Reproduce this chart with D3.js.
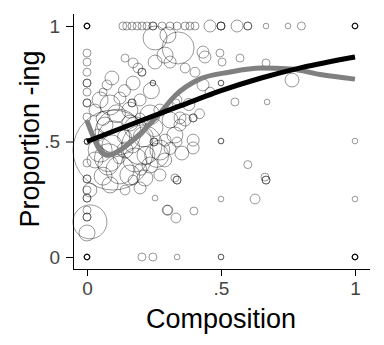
<!DOCTYPE html>
<html><head><meta charset="utf-8">
<script src="https://cdn.jsdelivr.net/npm/d3@7"></script>
<style>body{margin:0;background:#fff}svg{display:block}</style>
</head><body>
<script>
// ---- data ----
const composition = [
 0,0,0,.134,.149,.168,.187,.205,.224,.246,.246,.28,.31,.336,.366,.384,.403,.459,.5,.5,.5,.56,.6,.6,.668,.75,.8,1,1,1,
 0,0,0,0,0,0,0,0,0,0,0,0,0,0,0,0,0,0,0,0,0,0,.011,0,0,0,
 .142,.172,.19,.205,.205,.254,.291,.254,.302,.093,.075,.06,.172,.246,.246,.34,.433,.44,.496,.504,.571,.366,.403,.31,.668,.765,.5,.5,.433,.459,
 .03,.049,.086,.123,.16,.198,.235,.272,.31,.116,.205,.067,.041,.093,.142,.049,.03,.078,.123,.179,.235,.272,.291,.328,.347,.097,.16,.216,.272,.086,
 .142,.172,.198,.254,.299,.336,.347,.366,.396,.396,.336,.354,.396,.396,.328,.336,.336,.552,.672,.5,.5,.6,.664,.668,.668,.5,.627,1,.302,.332,
 .399,.336,.5,.5,.205,.246,1,1,1,1,
 .06,.11,.18,.25,.14,.22,.17,.06,.12,.29,.31,.2,.24,.14,.38,.42,
 .168,.168,.332,.25,.25,.198,.011,.1,.16,.21,.26,.08,
 0,0,0,0,0,0,1,1,1,1,1
];
const propIng = [
 1,1,1,1,1,1,1,1,1,1,1,1,1,1,1,1,1,1,1,1,1,1,1,1,1,1,1,1,1,1,
 .883,.844,.80,.753,.753,.714,.667,.667,.606,.5,.5,.5,.407,.338,.338,.29,.255,.255,.203,.173,.173,.104,.152,0,0,0,
 .861,.84,.818,.80,.80,.844,.874,.948,.961,.775,.745,.714,.753,.753,.753,.905,.887,.866,.883,.844,.861,.818,.80,.844,.84,.766,.753,.753,.745,.714,
 .636,.68,.658,.688,.636,.68,.615,.636,.593,.541,.485,.571,.528,.485,.463,.463,.42,.398,.377,.42,.398,.463,.506,.528,.571,.463,.355,.342,.355,.312,
 .29,.333,.299,.255,.203,.68,.602,.593,.602,.602,.498,.45,.506,.472,.342,.333,.333,.671,.671,.502,.502,.40,.346,.333,.333,.251,.251,.251,.203,.169,
 .199,0,0,0,0,0,0,0,0,.502,
 .60,.62,.56,.56,.52,.44,.48,.35,.43,.42,.47,.38,.72,.72,.66,.62,
 .667,.667,.667,.498,.498,.602,.29,.52,.58,.52,.44,.43,
 1,1,1,0,0,0,1,1,0,0,0
];
const weight = [
 2,2,2,4,4,4,4,4,4,4,4,4,4,4,4,4,4,9,4,4,4,9,4,4,2,2,4,2,2,2,
 4,4,4,4,4,4,4,4,4,2,2,2,4,4,4,4,4,4,4,4,4,16,72,2,2,2,
 4,6,6,4,4,12,16,36,16,12,6,4,12,2,2,64,9,9,4,4,4,6,6,9,4,12,2,2,9,6,
 9,16,25,9,16,9,25,9,16,130,100,16,9,25,16,36,16,25,49,36,16,25,9,16,9,400,25,16,9,16,
 6,6,9,2,6,6,9,9,4,4,6,12,9,9,4,4,4,4,2,2,2,4,4,4,4,2,6,2,6,6,
 4,2,2,2,4,4,2,2,2,2,
 12,20,30,20,12,20,12,20,9,12,9,9,16,9,9,6,
 4,4,4,4,4,6,12,64,16,25,36,49,
 2,2,2,2,2,2,2,2,2,2,2
];
// linear-ish fit (black) and lowess (gray)
const fitX = [0, .2, .35, .5, .65, .8, 1];
const fitY = [.5, .59, .655, .72, .775, .82, .866];
const lowX = [0, .02, .05, .08, .12, .2, .27, .33, .42, .53, .65, .76, .87, 1];
const lowY = [.59, .53, .46, .44, .46, .535, .62, .70, .77, .80, .818, .814, .79, .77];
const xTicks = [0, .5, 1], xTickLabels = ["0", ".5", "1"];
const yTicks = [0, .5, 1], yTickLabels = ["0", ".5", "1"];

// ---- drawing ----
const W = 384, H = 345;
const svg = d3.select("body").append("svg").attr("width", W).attr("height", H);
const x = d3.scaleLinear().domain([0, 1]).range([87, 355]);
const y = d3.scaleLinear().domain([0, 1]).range([257, 26]);
const r = d3.scaleSqrt().domain([0, 400]).range([0, 40]);

const pts = composition.map((c, i) => ({c, p: propIng[i], w: weight[i]}));
svg.append("g").selectAll("circle").data(pts).join("circle")
  .attr("cx", d => x(d.c)).attr("cy", d => y(d.p)).attr("r", d => r(d.w))
  .attr("fill", "none").attr("stroke", "#000").attr("stroke-opacity", 0.4).attr("stroke-width", 1);

const line = d3.line().x(d => x(d[0])).y(d => y(d[1])).curve(d3.curveMonotoneX);
svg.append("path").datum(lowX.map((v, i) => [v, lowY[i]])).attr("d", line)
  .attr("fill", "none").attr("stroke", "#808080").attr("stroke-width", 5);
svg.append("path").datum(fitX.map((v, i) => [v, fitY[i]])).attr("d", line)
  .attr("fill", "none").attr("stroke", "#000").attr("stroke-width", 5);

// axes
const font = "'Liberation Sans', Arial, sans-serif";
const xAxis = d3.axisBottom(x).tickValues(xTicks).tickFormat((d, i) => xTickLabels[i]).tickSize(7).tickSizeOuter(0).tickPadding(6);
const gx = svg.append("g").attr("transform", "translate(0,269)").call(xAxis);
gx.select(".domain").attr("d", "M73,0.5H370");
gx.selectAll("text").attr("font-family", font).attr("font-size", 19).attr("fill", "#444");
const yAxis = d3.axisLeft(y).tickValues(yTicks).tickFormat((d, i) => yTickLabels[i]).tickSize(7).tickSizeOuter(0).tickPadding(6);
const gy = svg.append("g").attr("transform", "translate(73,0)").call(yAxis);
gy.select(".domain").attr("d", "M0.5,14V269");
gy.selectAll("text").attr("font-family", font).attr("font-size", 19).attr("fill", "#444");

svg.append("text").attr("x", 221).attr("y", 328).attr("text-anchor", "middle")
  .attr("font-family", font).attr("font-size", 27).attr("fill", "#000").text("Composition");
svg.append("text").attr("transform", "translate(39,139) rotate(-90)").attr("text-anchor", "middle")
  .attr("font-family", font).attr("font-size", 27).attr("fill", "#000").text("Proportion -ing");
</script>
</body></html>
